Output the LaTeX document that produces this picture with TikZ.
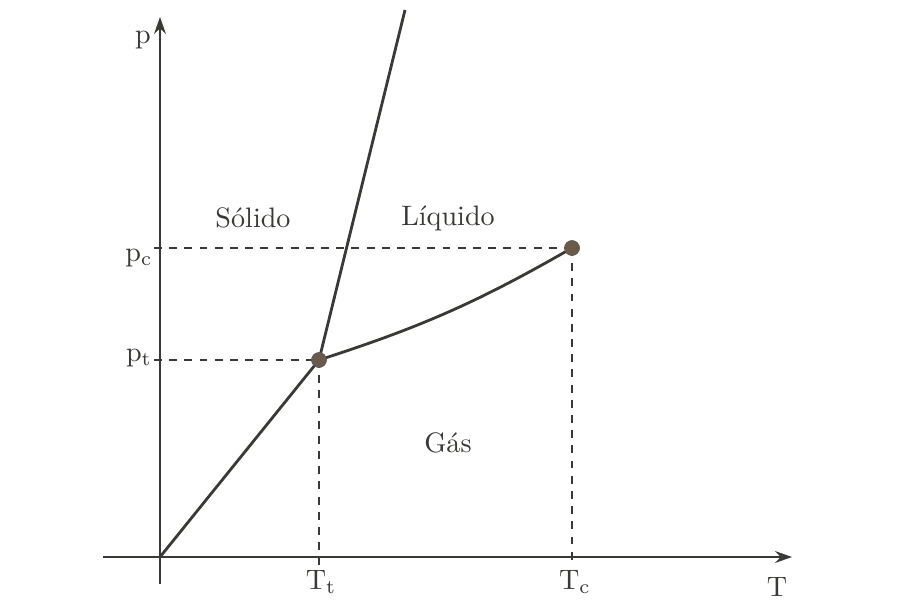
\documentclass[tikz,border=0pt]{standalone}
\usepackage{xcolor}
\definecolor{cink}{HTML}{3A3936}
\definecolor{cdot}{HTML}{6A5A47}
\usepackage{tikz}
\usetikzlibrary{arrows.meta}

\begin{document}
\begin{tikzpicture}[x=0.0125cm, y=0.0125cm, >={Stealth[length=6pt, width=4.2pt]},
  axis/.style={draw=cink, line width=0.7pt},
  phase/.style={draw=cink, line width=1pt},
  guide/.style={draw=cink, line width=0.5pt, dash pattern=on 2.8pt off 2.6pt},
  pt/.style={circle, fill=cdot, draw=cink!80, line width=0.3pt, inner sep=0pt, minimum size=5.2pt},
  lbl/.style={text=cink, font=\normalsize}]
  \useasboundingbox (0,0) rectangle (899,610);
  % axes
  \coordinate (o) at (160,53);
  \coordinate (ytop) at (160,593);
  \coordinate (ybot) at (160,26);
  \coordinate (xleft) at (103,53);
  \coordinate (xright) at (792,53);
  \draw[axis, ->] (ybot) -- (ytop);
  \draw[axis, ->] (xleft) -- (xright);
  % triple and critical points
  \node[pt] (tp) at (319,250) {};
  \node[pt] (cp) at (572,362) {};
  \coordinate (ptick) at (154,250);
  \coordinate (pctick) at (154,362);
  \coordinate (ttick) at (319,45);
  \coordinate (tctick) at (572,45);
  \draw[guide] (ptick) -- (tp.center);
  \draw[guide] (pctick) -- (cp.center);
  \draw[guide] (tp.center) -- (ttick);
  \draw[guide] (cp.center) -- (tctick);
  % phase boundaries
  \coordinate (fusiontop) at (405,600);
  \draw[phase] (o) -- (tp.center);
  \draw[phase] (tp.center) -- (fusiontop);
  \draw[phase] (tp.center) to[bend right=6] (cp.center);
  \node[pt] at (tp) {};
  \node[pt] at (cp) {};
  % labels
  \node[lbl] (lp) at (143,570) {p};
  \node[lbl] (lpc) at (139,352) {p\textsubscript{c}};
  \node[lbl] (lpt) at (139,252) {p\textsubscript{t}};
  \node[lbl] (ltt) at (321,28) {T\textsubscript{t}};
  \node[lbl] (ltc) at (575,28) {T\textsubscript{c}};
  \node[lbl] (lt) at (777,23) {T};
  \node[lbl] (solid) at (253,392) {Sólido};
  \node[lbl] (liquid) at (448,392) {Líquido};
  \node[lbl] (gas) at (448,167) {Gás};
\end{tikzpicture}
\end{document}
